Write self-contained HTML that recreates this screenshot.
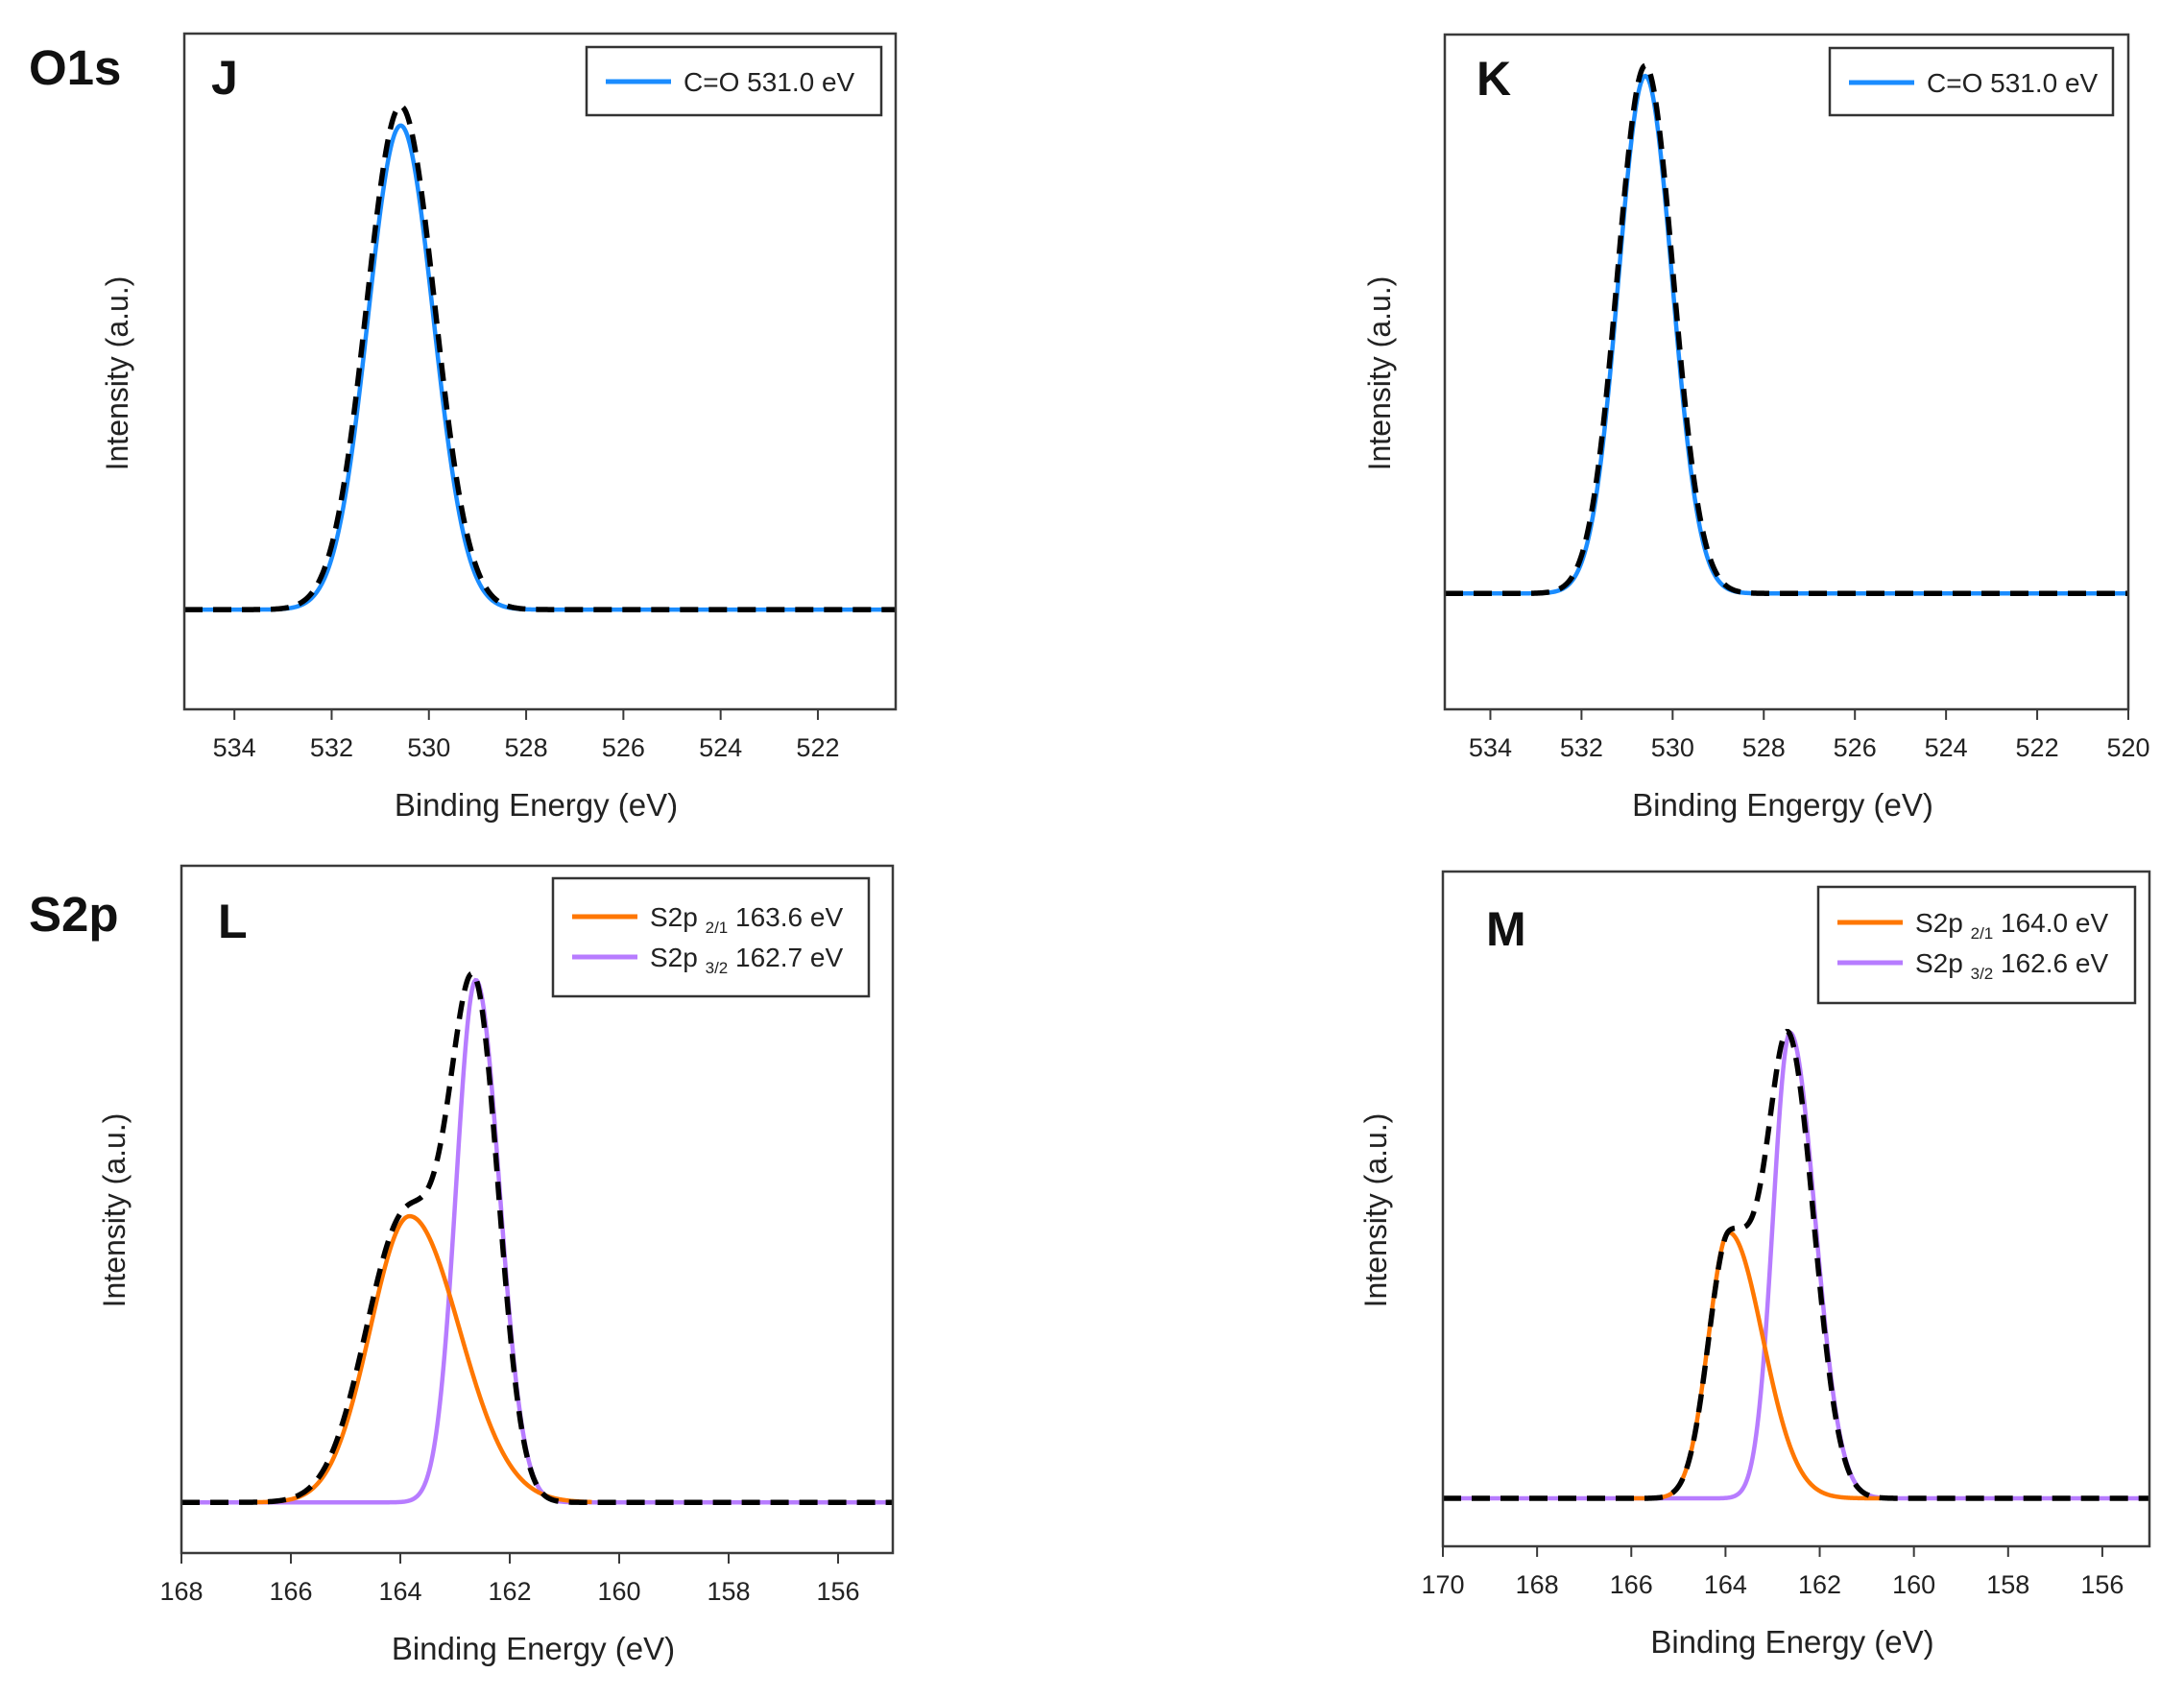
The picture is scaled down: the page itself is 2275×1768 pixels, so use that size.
<!DOCTYPE html>
<html><head><meta charset="utf-8"><style>
html,body{margin:0;padding:0;background:#fff;}
svg{display:block;font-family:"Liberation Sans",Arial,sans-serif;}
</style></head><body>
<svg id="fig" width="2275" height="1768" viewBox="0 0 2275 1768" xmlns="http://www.w3.org/2000/svg">
<text x="30" y="88" font-size="51" font-weight="bold" fill="#111">O1s</text>
<text x="30" y="970" font-size="51" font-weight="bold" fill="#111">S2p</text>
</svg>
<script>
// ---- Data: peak parameters (center eV, height, left sigma, right sigma)
const jCompCenter = [530.58], jCompHeight = [1.0], jCompSigL = [0.67], jCompSigR = [0.67];
const jEnvCenter = [530.58], jEnvHeight = [1.04], jEnvSigL = [0.7], jEnvSigR = [0.7];
const kCompCenter = [530.6], kCompHeight = [1.0], kCompSigL = [0.59], kCompSigR = [0.59];
const kEnvCenter = [530.6], kEnvHeight = [1.02], kEnvSigL = [0.61], kEnvSigR = [0.61];
const lOrangeCenter = [163.83], lOrangeHeight = [0.548], lOrangeSigL = [0.72], lOrangeSigR = [0.91];
const lPurpleCenter = [162.62], lPurpleHeight = [1.0], lPurpleSigL = [0.36], lPurpleSigR = [0.43];
const lEnvCenter = [162.62, 163.9], lEnvHeight = [0.9, 0.55], lEnvSigL = [0.45, 0.72], lEnvSigR = [0.43, 0.7];
const mOrangeCenter = [163.93], mOrangeHeight = [0.571], mOrangeSigL = [0.43], mOrangeSigR = [0.72];
const mPurpleCenter = [162.63], mPurpleHeight = [1.0], mPurpleSigL = [0.36], mPurpleSigR = [0.53];
const mEnvCenter = [162.63, 163.93], mEnvHeight = [0.92, 0.56], mEnvSigL = [0.45, 0.43], mEnvSigR = [0.53, 0.65];
const jTicks = [534, 532, 530, 528, 526, 524, 522];
const kTicks = [534, 532, 530, 528, 526, 524, 522, 520];
const lTicks = [168, 166, 164, 162, 160, 158, 156];
const mTicks = [170, 168, 166, 164, 162, 160, 158, 156];

const NS = "http://www.w3.org/2000/svg";
const svg = document.getElementById('fig');
function mk(tag, attrs, parent) {
  const e = document.createElementNS(NS, tag);
  for (const k in attrs) e.setAttribute(k, attrs[k]);
  (parent || svg).appendChild(e);
  return e;
}
function model(x, C, H, SL, SR) {
  let s = 0;
  for (let i = 0; i < C.length; i++) {
    const sg = x > C[i] ? SL[i] : SR[i];
    const z = (x - C[i]) / sg;
    s += H[i] * Math.exp(-0.5 * z * z);
  }
  return s;
}
function panel(p) {
  const g = mk('g', {});
  
  
  const X = v => p.x0 + (p.xa - v) / (p.xa - p.xb) * (p.x1 - p.x0);
  const Y = v => p.y1 - (v - p.ya) / (p.yb - p.ya) * (p.y1 - p.y0);
  function curve(C, H, SL, SR, from, to, attrs, nm) {
    let d = '';
    const n = 600;
    for (let i = 0; i <= n; i++) {
      const e = from + (to - from) * i / n;
      d += (i ? 'L' : 'M') + X(e).toFixed(2) + ' ' + Y(model(e, C, H, SL, SR)).toFixed(2);
    }
    const el = mk('path', Object.assign({d: d, fill: 'none'}, attrs), g);
    
    
  }
  for (const s of p.series) curve(s.C, s.H, s.SL, s.SR, s.from === undefined ? p.xa : s.from, s.to === undefined ? p.xb : s.to, {stroke: s.color, 'stroke-width': 4.5}, s.name);
  curve(p.env.C, p.env.H, p.env.SL, p.env.SR, p.xa, p.xb, {stroke: '#000', 'stroke-width': 5.5, 'stroke-dasharray': '19 11'}, 'envelope-fit-line');
  const frame = mk('rect', {x: p.x0, y: p.y0, width: p.x1 - p.x0, height: p.y1 - p.y0, fill: 'none', stroke: '#3a3a3a', 'stroke-width': 2.5}, g);
  
  
  for (const t of p.ticks) {
    const tx = X(t);
    const tk = mk('line', {x1: tx, x2: tx, y1: p.y1, y2: p.y1 + 11, stroke: '#3a3a3a', 'stroke-width': 2}, g);
    
    
    const tl = mk('text', {x: tx, y: p.y1 + 49, 'font-size': 27, 'text-anchor': 'middle', fill: '#222'}, g);
    tl.textContent = t;
    
    
  }
  const xt = mk('text', {x: (p.x0 + p.x1) / 2 - 4, y: p.y1 + 111, 'font-size': 33, 'text-anchor': 'middle', fill: '#222'}, g);
  xt.textContent = p.xtitle;
  
  
  const yt = mk('text', {x: 0, y: 0, 'font-size': 32, 'text-anchor': 'middle', fill: '#222', transform: 'translate(' + (p.ytx + 11) + ',' + p.yty + ') rotate(-90)'}, g);
  yt.textContent = 'Intensity (a.u.)';
  
  
  const lt = mk('text', {x: p.lx, y: p.ly, 'font-size': 50, 'font-weight': 'bold', fill: '#111'}, g);
  lt.textContent = p.letter;
  
  
  const lg = mk('g', {}, g);
  
  
  mk('rect', {x: p.leg[0], y: p.leg[1], width: p.leg[2], height: p.leg[3], fill: '#fff', stroke: '#333', 'stroke-width': 2.5}, lg);
  p.legItems.forEach((it, i) => {
    const yy = p.legRow0 + i * p.legStep;
    const ln = mk('line', {x1: p.leg[0] + 20, x2: p.leg[0] + 88, y1: yy, y2: yy, stroke: it.color, 'stroke-width': 5}, lg);
    
    
    const tx = mk('text', {x: p.leg[0] + 101, y: yy + 10, 'font-size': 28, fill: '#222'}, lg);
    
    
    if (it.sub) {
      tx.appendChild(document.createTextNode(it.pre + ' '));
      const ts = mk('tspan', {'font-size': 17, dy: 7}, tx);
      ts.textContent = it.sub;
      const t2 = mk('tspan', {dy: -7}, tx);
      t2.textContent = ' ' + it.post;
    } else tx.textContent = it.pre;
  });
}
panel({name: 'panel-j', letter: 'J', lx: 220, ly: 98, x0: 192, x1: 933, y0: 35, y1: 739, xa: 535.03, xb: 520.4, ya: -0.206, yb: 1.19,
  ticks: jTicks, xtitle: 'Binding Energy (eV)', ytx: 122, yty: 389,
  series: [{C: jCompCenter, H: jCompHeight, SL: jCompSigL, SR: jCompSigR, color: '#1a8cff', name: 'co-peak-line'}],
  env: {C: jEnvCenter, H: jEnvHeight, SL: jEnvSigL, SR: jEnvSigR},
  leg: [611, 49, 307, 71], legRow0: 85, legStep: 0, legItems: [{color: '#1a8cff', pre: 'C=O 531.0 eV'}]});
panel({name: 'panel-k', letter: 'K', lx: 1538, ly: 99, x0: 1505, x1: 2217, y0: 36, y1: 739, xa: 535, xb: 520, ya: -0.224, yb: 1.08,
  ticks: kTicks, xtitle: 'Binding Engergy (eV)', ytx: 1437, yty: 389,
  series: [{C: kCompCenter, H: kCompHeight, SL: kCompSigL, SR: kCompSigR, color: '#1a8cff', name: 'co-peak-line'}],
  env: {C: kEnvCenter, H: kEnvHeight, SL: kEnvSigL, SR: kEnvSigR},
  leg: [1906, 50, 295, 70], legRow0: 86, legStep: 0, legItems: [{color: '#1a8cff', pre: 'C=O 531.0 eV'}]});
panel({name: 'panel-l', letter: 'L', lx: 227, ly: 977, x0: 189, x1: 930, y0: 902, y1: 1618, xa: 168, xb: 155, ya: -0.097, yb: 1.219,
  ticks: lTicks, xtitle: 'Binding Energy (eV)', ytx: 119, yty: 1261,
  series: [{C: lPurpleCenter, H: lPurpleHeight, SL: lPurpleSigL, SR: lPurpleSigR, color: '#b77cff', name: 's2p-3-2-line'},
           {C: lOrangeCenter, H: lOrangeHeight, SL: lOrangeSigL, SR: lOrangeSigR, color: '#ff7700', name: 's2p-2-1-line', from: 166.8, to: 160.5}],
  env: {C: lEnvCenter, H: lEnvHeight, SL: lEnvSigL, SR: lEnvSigR},
  leg: [576, 915, 329, 123], legRow0: 955, legStep: 42,
  legItems: [{color: '#ff7700', pre: 'S2p', sub: '2/1', post: '163.6 eV'}, {color: '#b77cff', pre: 'S2p', sub: '3/2', post: '162.7 eV'}]});
panel({name: 'panel-m', letter: 'M', lx: 1548, ly: 985, x0: 1503, x1: 2239, y0: 908, y1: 1611, xa: 170, xb: 155, ya: -0.103, yb: 1.346,
  ticks: mTicks, xtitle: 'Binding Energy (eV)', ytx: 1433, yty: 1261,
  series: [{C: mPurpleCenter, H: mPurpleHeight, SL: mPurpleSigL, SR: mPurpleSigR, color: '#b77cff', name: 's2p-3-2-line'},
           {C: mOrangeCenter, H: mOrangeHeight, SL: mOrangeSigL, SR: mOrangeSigR, color: '#ff7700', name: 's2p-2-1-line', from: 166.3, to: 160.7}],
  env: {C: mEnvCenter, H: mEnvHeight, SL: mEnvSigL, SR: mEnvSigR},
  leg: [1894, 924, 330, 121], legRow0: 961, legStep: 42,
  legItems: [{color: '#ff7700', pre: 'S2p', sub: '2/1', post: '164.0 eV'}, {color: '#b77cff', pre: 'S2p', sub: '3/2', post: '162.6 eV'}]});
</script>
</body></html>
